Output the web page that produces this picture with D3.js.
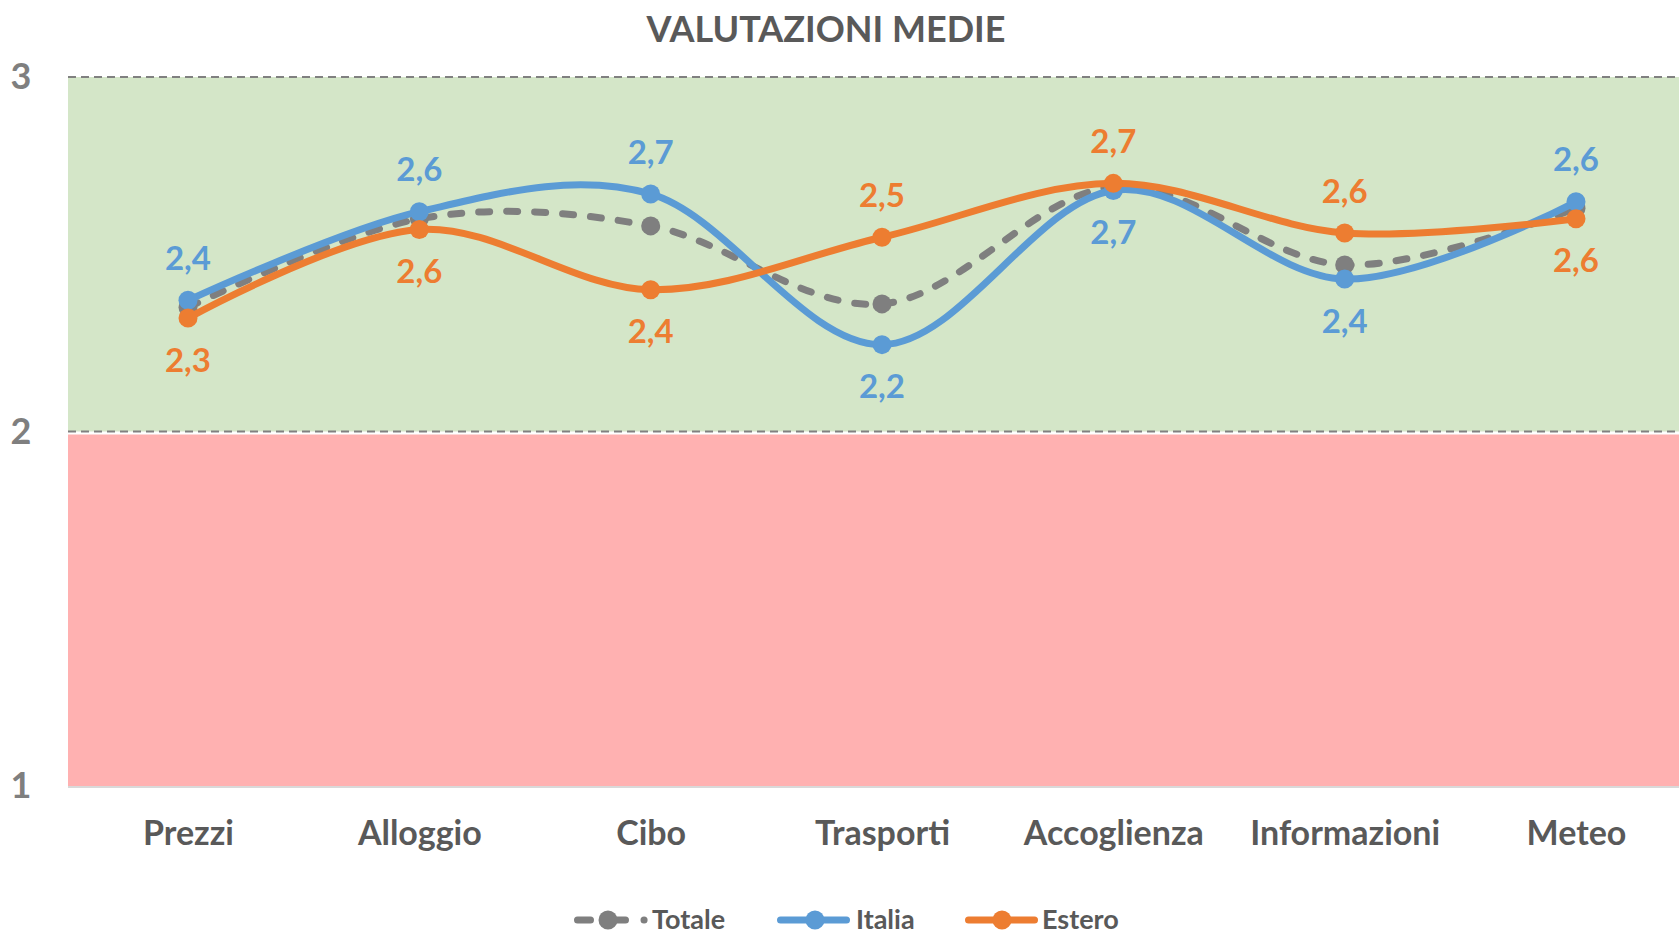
<!DOCTYPE html>
<html>
<head>
<meta charset="utf-8">
<script src="https://cdn.jsdelivr.net/npm/d3@7"></script>
<style>
  body { margin: 0; background: #fff; }
  svg text { font-family: Lato, "Open Sans", sans-serif; font-weight: 700; }
</style>
</head>
<body>
<div id="chart"></div>
<script>
// data
var categories = ["Prezzi", "Alloggio", "Cibo", "Trasporti", "Accoglienza", "Informazioni", "Meteo"];
var totale = [2.35, 2.60, 2.58, 2.36, 2.69, 2.47, 2.63];
var italia = [2.37, 2.62, 2.67, 2.245, 2.68, 2.43, 2.648];
var estero = [2.32, 2.57, 2.40, 2.548, 2.70, 2.56, 2.60];
var yTicks = [1, 2, 3];

var width = 1679, height = 936;

var svg = d3.select("#chart")
  .append("svg")
    .attr("width", width)
    .attr("height", height);

var plotLeft = 68, plotRight = width;

var x = d3.scalePoint()
    .domain(categories)
    .range([188, 1576]);

var y = d3.scaleLinear()
    .domain([1, 3])
    .range([786, 77]);

var fmt = d3.formatLocale({decimal: ",", thousands: ".", grouping: [3], currency: ["", "€"]}).format(".1f");

// background bands
svg.append("rect")
  .attr("x", plotLeft).attr("y", y(3))
  .attr("width", plotRight - plotLeft).attr("height", y(2) - y(3))
  .attr("fill", "#d4e6c8");
svg.append("rect")
  .attr("x", plotLeft).attr("y", y(2) + 3)
  .attr("width", plotRight - plotLeft).attr("height", y(1) - y(2) - 3)
  .attr("fill", "#ffb1b1");
svg.append("line")
  .attr("x1", plotLeft).attr("x2", plotRight)
  .attr("y1", y(1) + 1).attr("y2", y(1) + 1)
  .attr("stroke", "#d9d9d9").attr("stroke-width", 2);

// dashed gridlines at 2 and 3
svg.selectAll(".grid")
  .data([2, 3])
  .enter()
  .append("line")
    .attr("class", "grid")
    .attr("x1", plotLeft).attr("x2", plotRight)
    .attr("y1", function(d) { return y(d); })
    .attr("y2", function(d) { return y(d); })
    .attr("stroke", "#808080")
    .attr("stroke-width", 2)
    .attr("stroke-dasharray", "8,5");

// y axis labels
var yAxis = svg.append("g")
  .attr("transform", "translate(21,0)")
  .call(d3.axisLeft(y).tickValues(yTicks).tickFormat(d3.format("d")).tickSize(0).tickPadding(0));
yAxis.select(".domain").remove();
yAxis.selectAll("text")
  .attr("x", 0)
  .attr("text-anchor", "middle")
  .attr("fill", "#7f7f7f")
  .style("font-size", "36px")
  .style("font-family", "Lato, sans-serif")
  .style("font-weight", 700);

// x axis labels
var xAxis = svg.append("g")
  .attr("transform", "translate(0,833)")
  .call(d3.axisBottom(x).tickSize(0).tickPadding(0));
xAxis.select(".domain").remove();
xAxis.selectAll("text")
  .attr("y", 0)
  .attr("dy", "0.35em")
  .attr("fill", "#595959")
  .style("font-size", "34px")
  .style("font-family", "Lato, sans-serif")
  .style("font-weight", 700);

// title
svg.append("text")
  .attr("x", 826)
  .attr("y", 29)
  .attr("dy", "0.35em")
  .attr("text-anchor", "middle")
  .attr("fill", "#595959")
  .style("font-size", "36px")
  .text("VALUTAZIONI MEDIE");

var line = d3.line()
  .x(function(d, i) { return x(categories[i]); })
  .y(function(d) { return y(d); })
  .curve(d3.curveCardinal.tension(0));

var series = [
  {name: "Totale", values: totale, color: "#7f7f7f", dash: "11,17"},
  {name: "Italia", values: italia, color: "#5b9bd5", dash: null},
  {name: "Estero", values: estero, color: "#ed7d31", dash: null}
];

series.forEach(function(s) {
  svg.append("path")
    .datum(s.values)
    .attr("d", line)
    .attr("fill", "none")
    .attr("stroke", s.color)
    .attr("stroke-width", 7)
    .attr("stroke-linecap", "round")
    .attr("stroke-dasharray", s.dash);

  svg.selectAll(".dot-" + s.name)
    .data(s.values)
    .enter()
    .append("circle")
      .attr("cx", function(d, i) { return x(categories[i]); })
      .attr("cy", function(d) { return y(d); })
      .attr("r", 9.5)
      .attr("fill", s.color);
});

// data labels: the higher of Italia / Estero goes above, the lower below
[series[1], series[2]].forEach(function(s) {
  var other = s.name === "Italia" ? estero : italia;
  svg.selectAll(".lab-" + s.name)
    .data(s.values)
    .enter()
    .append("text")
      .attr("x", function(d, i) { return x(categories[i]); })
      .attr("y", function(d, i) { return y(d) + (d >= other[i] ? -42 : 42); })
      .attr("dy", "0.35em")
      .attr("text-anchor", "middle")
      .attr("fill", s.color)
      .style("font-size", "33px")
      .text(function(d) { return fmt(d); });
});

// legend
var legendX = [574, 777, 965];
var legendMarker = [34, 38, 37];
var legendText = [78, 79, 77];
var legend = svg.selectAll(".legend")
  .data(series)
  .enter()
  .append("g")
    .attr("class", "legend")
    .attr("transform", function(d, i) { return "translate(" + legendX[i] + ",920)"; });

legend.append("line")
  .attr("x1", 3.5).attr("x2", function(d) { return d.dash ? 71 : 69.5; })
  .attr("y1", 0).attr("y2", 0)
  .attr("stroke", function(d) { return d.color; })
  .attr("stroke-width", 7)
  .attr("stroke-linecap", "round")
  .attr("stroke-dasharray", function(d) { return d.dash ? "13,18,17,18.5,0.1,50" : null; });
legend.append("circle")
  .attr("cx", function(d, i) { return legendMarker[i]; })
  .attr("r", 9.5)
  .attr("fill", function(d) { return d.color; });
legend.append("text")
  .attr("x", function(d, i) { return legendText[i]; })
  .attr("dy", "0.35em")
  .attr("fill", "#595959")
  .style("font-size", "27px")
  .text(function(d) { return d.name; });
</script>
</body>
</html>
